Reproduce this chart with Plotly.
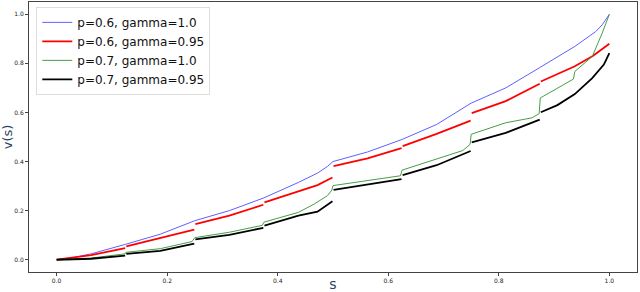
import plotly.graph_objects as go

# ---- data ----
s_blue = [0.0, 0.03125, 0.0625, 0.09375, 0.125, 0.1875, 0.24, 0.25, 0.3125, 0.37, 0.375, 0.4375, 0.472, 0.49, 0.5,
          0.5625, 0.625, 0.6875, 0.735, 0.75, 0.8125, 0.865, 0.875, 0.9375, 0.96, 0.975, 0.987, 1.0]
v_blue = [0.0, 0.009, 0.024, 0.042, 0.063, 0.104, 0.148, 0.159, 0.200, 0.245, 0.252, 0.315, 0.353, 0.38, 0.400,
          0.439, 0.490, 0.551, 0.619, 0.638, 0.700, 0.768, 0.784, 0.869, 0.905, 0.929, 0.957, 1.0]

s_red = [0.0, 0.0625, 0.124, None, 0.126, 0.1875, 0.249, None, 0.251, 0.3125, 0.374, None, 0.376, 0.4375, 0.472, 0.499, None,
         0.501, 0.5625, 0.624, None, 0.626, 0.6875, 0.749, None, 0.751, 0.8125, 0.874, None, 0.876, 0.9375, 0.97, 1.0]
v_red = [0.0, 0.019, 0.047, None, 0.054, 0.090, 0.123, None, 0.145, 0.180, 0.224, None, 0.234, 0.277, 0.304, 0.335, None,
         0.381, 0.413, 0.455, None, 0.463, 0.513, 0.567, None, 0.597, 0.646, 0.717, None, 0.726, 0.788, 0.83, 0.88]

s_green = [0.0, 0.0625, 0.124, 0.125, 0.1875, 0.245, 0.25, 0.3125, 0.372, 0.375, 0.4375, 0.466, 0.49, 0.498, 0.5,
           0.5625, 0.622, 0.625, 0.6875, 0.735, 0.748, 0.75, 0.8125, 0.86, 0.873, 0.875, 0.935, 0.9375, 0.969, 0.987, 1.0]
v_green = [0.0, 0.007, 0.024, 0.030, 0.045, 0.074, 0.090, 0.112, 0.140, 0.153, 0.193, 0.227, 0.261, 0.284, 0.302,
           0.321, 0.342, 0.365, 0.409, 0.445, 0.47, 0.511, 0.558, 0.578, 0.595, 0.659, 0.736, 0.767, 0.828, 0.923, 1.0]

s_black = [0.0, 0.0625, 0.124, None, 0.126, 0.1875, 0.249, None, 0.251, 0.3125, 0.374, None, 0.376, 0.4375, 0.472, 0.499, None,
           0.501, 0.5625, 0.624, None, 0.626, 0.6875, 0.749, None, 0.751, 0.8125, 0.874, None, 0.876, 0.906, 0.9375, 0.969, 0.99, 1.0]
v_black = [0.0, 0.004, 0.017, None, 0.024, 0.036, 0.066, None, 0.083, 0.101, 0.130, None, 0.139, 0.180, 0.196, 0.238, None,
           0.285, 0.305, 0.328, None, 0.345, 0.385, 0.443, None, 0.478, 0.517, 0.571, None, 0.601, 0.63, 0.675, 0.74, 0.795, 0.842]

labels = ["p=0.6, gamma=1.0", "p=0.6, gamma=0.95", "p=0.7, gamma=1.0", "p=0.7, gamma=0.95"]
x_ticks = [0.0, 0.2, 0.4, 0.6, 0.8, 1.0]
y_ticks = [0.0, 0.2, 0.4, 0.6, 0.8, 1.0]

fig = go.Figure()
fig.add_trace(go.Scatter(x=s_blue, y=v_blue, mode="lines", name=labels[0],
                         line=dict(color="#5f5fff", width=1)))
fig.add_trace(go.Scatter(x=s_red, y=v_red, mode="lines", name=labels[1], connectgaps=False,
                         line=dict(color="#ff0000", width=1.8)))
fig.add_trace(go.Scatter(x=s_green, y=v_green, mode="lines", name=labels[2],
                         line=dict(color="#45a045", width=1)))
fig.add_trace(go.Scatter(x=s_black, y=v_black, mode="lines", name=labels[3], connectgaps=False,
                         line=dict(color="#000000", width=1.8)))

axis_common = dict(showgrid=False, zeroline=False, showline=True, mirror=True, automargin=False,
                   linecolor="#444444", linewidth=1, ticks="outside", ticklen=3,
                   tickcolor="#444444", tickfont=dict(size=6, color="#222222", family="DejaVu Sans"))
fig.update_xaxes(range=[-0.05, 1.05], tickvals=x_ticks, ticktext=[f"{t:.1f}" for t in x_ticks],
                 title=dict(text="s", font=dict(size=14, family="DejaVu Sans"), standoff=0), **axis_common)
fig.update_yaxes(range=[-0.05, 1.05], tickvals=y_ticks, ticktext=[f"{t:.1f}" for t in y_ticks],
                 title=dict(text="v(s)", font=dict(size=13, family="DejaVu Sans"), standoff=4), **axis_common)

fig.update_layout(
    width=640, height=292,
    margin=dict(l=29, r=3, t=2, b=20),
    plot_bgcolor="white", paper_bgcolor="white",
    font=dict(family="DejaVu Sans"),
    legend=dict(x=0.012, y=0.982, xanchor="left", yanchor="top",
                bgcolor="rgba(255,255,255,0.85)", bordercolor="#dddddd", borderwidth=1,
                font=dict(size=12, family="DejaVu Sans", color="#111111"),
                tracegroupgap=0, itemwidth=30),
    showlegend=True,
)

fig.write_html("out.html", config={"displayModeBar": False},
               post_script="document.body.style.margin='0';document.body.style.padding='0';")
